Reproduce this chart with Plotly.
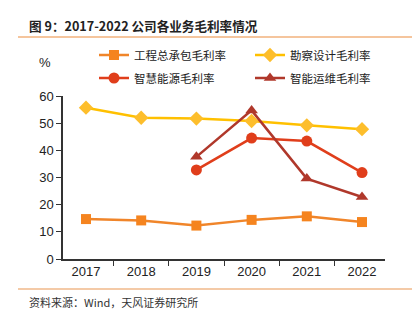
import plotly.graph_objects as go

years = ["2017", "2018", "2019", "2020", "2021", "2022"]
epc = [14.7, 14.2, 12.3, 14.4, 15.7, 13.6]
survey = [55.7, 52.0, 51.7, 50.8, 49.2, 47.8]
energy = [None, None, 32.8, 44.5, 43.4, 31.8]
om = [None, None, 37.6, 54.7, 29.6, 22.8]
y_ticks = [0, 10, 20, 30, 40, 50, 60]

CJK = "Noto Sans CJK SC"
NUM = "Liberation Sans, Arial, sans-serif"

fig = go.Figure()
fig.add_trace(go.Scatter(x=years, y=epc, name="工程总承包毛利率", mode="lines+markers",
                         line=dict(color="#F0852A", width=2.5),
                         marker=dict(symbol="square", size=10, color="#F5841F"),
                         legend="legend"))
fig.add_trace(go.Scatter(x=years, y=survey, name="勘察设计毛利率", mode="lines+markers",
                         line=dict(color="#FFC000", width=2.5),
                         marker=dict(symbol="diamond", size=11, color="#FDBE2C"),
                         legend="legend2"))
fig.add_trace(go.Scatter(x=years, y=energy, name="智慧能源毛利率", mode="lines+markers",
                         line=dict(color="#E03E1B", width=2.5),
                         marker=dict(symbol="circle", size=11, color="#E03E1B"),
                         legend="legend3"))
fig.add_trace(go.Scatter(x=years, y=om, name="智能运维毛利率", mode="lines+markers",
                         line=dict(color="#B0382B", width=2.5),
                         marker=dict(symbol="triangle-up", size=11, color="#B0382B"),
                         legend="legend4"))

L, R, T, B = 63, 33, 96, 66
W, H = 418, 325
pw = W - L - R
ph = H - T - B

def px(x):
    return (x - L) / pw

def py(y):
    return (H - B - y) / ph

legend_common = dict(orientation="h", xanchor="left", yanchor="middle",
                     font=dict(family=CJK, size=11.5, color="#222222"),
                     bgcolor="rgba(0,0,0,0)", itemwidth=30)

fig.update_layout(
    width=W, height=H,
    margin=dict(l=L, r=R, t=T, b=B),
    paper_bgcolor="white", plot_bgcolor="white",
    showlegend=True,
    legend=dict(x=px(94), y=py(55), **legend_common),
    legend2=dict(x=px(250), y=py(55), **legend_common),
    legend3=dict(x=px(94), y=py(78), **legend_common),
    legend4=dict(x=px(250), y=py(78), **legend_common),
    xaxis=dict(type="category", showline=True, linecolor="#333333", linewidth=1.5,
               ticks="outside", tickson="boundaries", ticklen=5, tickcolor="#333333",
               tickfont=dict(family=NUM, size=13, color="#222222"),
               showgrid=False, zeroline=False),
    yaxis=dict(range=[0, 60], tickvals=y_ticks, showline=True, linecolor="#333333",
               linewidth=1.5, ticks="outside", ticklen=5, tickcolor="#333333",
               tickfont=dict(family=NUM, size=13, color="#222222"),
               showgrid=False, zeroline=False),
)

fig.add_annotation(text="<b>图 9：2017-2022 公司各业务毛利率情况</b>", xref="paper", yref="paper",
                   x=px(27), y=py(25), xanchor="left", yanchor="middle", showarrow=False,
                   font=dict(family=CJK, size=12.6, color="#222222"))
fig.add_annotation(text="%", xref="paper", yref="paper", x=px(45), y=py(62),
                   xanchor="center", yanchor="middle", showarrow=False,
                   font=dict(family=NUM, size=13, color="#222222"))
fig.add_annotation(text="资料来源：Wind，天风证券研究所", xref="paper", yref="paper",
                   x=px(27), y=py(302), xanchor="left", yanchor="middle", showarrow=False,
                   font=dict(family=CJK, size=11, color="#333333"))

fig.add_shape(type="line", xref="paper", yref="paper", x0=px(18), x1=px(412),
              y0=py(37), y1=py(37), line=dict(color="#F2B27C", width=1.5))
fig.add_shape(type="line", xref="paper", yref="paper", x0=px(18), x1=px(412),
              y0=py(289), y1=py(289), line=dict(color="#E99550", width=1.2))

fig.write_html("out.html")
